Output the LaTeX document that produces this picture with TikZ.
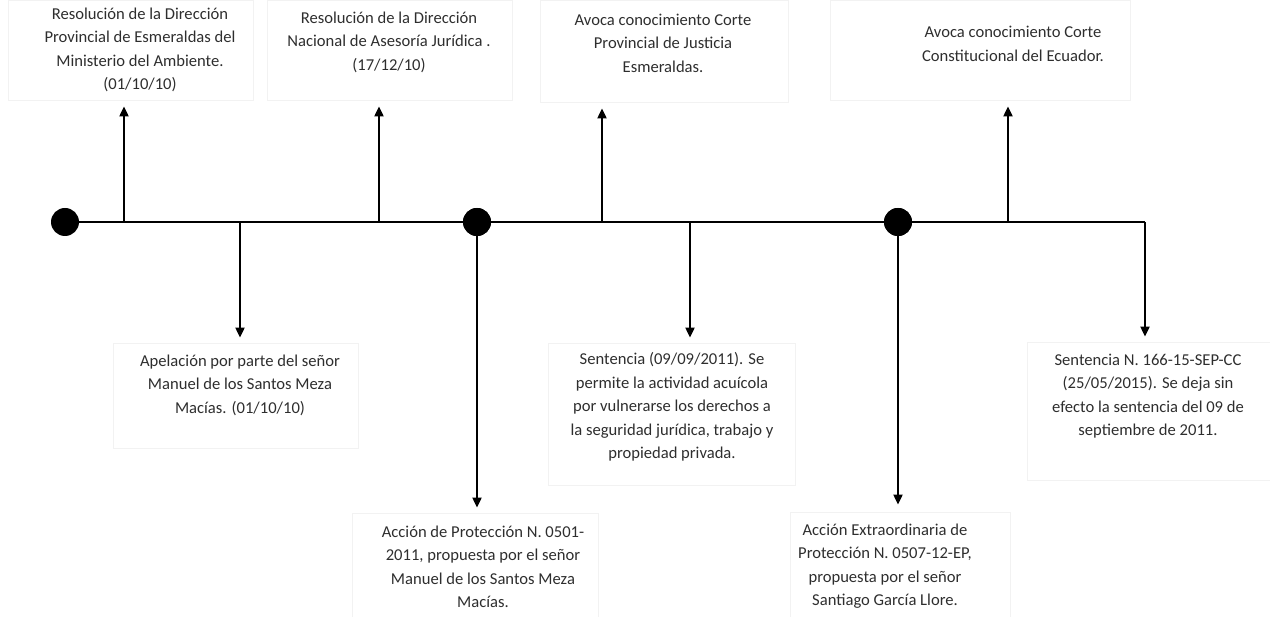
\documentclass[tikz,border=0pt]{standalone}
\usepackage{fontspec}
\setmainfont{Carlito}
\usetikzlibrary{arrows.meta}
\definecolor{txtc}{HTML}{2E2E2E}
\definecolor{boxc}{HTML}{F2F2F2}
\tikzset{
  boxnode/.style={draw=boxc, line width=0.8pt, rectangle, inner sep=0pt},
  txt/.style={align=center, text=txtc, font=\fontsize{16.6}{23.5}\selectfont, inner sep=0pt},
  dot/.style={circle, fill=black, minimum size=28pt, inner sep=0pt},
  tl/.style={line width=2pt, black},
  arr/.style={line width=2pt, black, -{Triangle[width=9pt,length=10pt]}}
}
\begin{document}
\begin{tikzpicture}[x=1pt,y=-1pt]
\useasboundingbox (0,0) rectangle (1270,617);
% boxes
\node[boxnode, minimum width=245pt, minimum height=100pt] (b1) at (130.5,50) {};
\node[boxnode, minimum width=245pt, minimum height=100pt] (b2) at (389.5,50) {};
\node[boxnode, minimum width=248pt, minimum height=102pt] (b3) at (664,51) {};
\node[boxnode, minimum width=300pt, minimum height=100pt] (b4) at (980,50) {};
\node[boxnode, minimum width=245pt, minimum height=105pt] (b5) at (235.5,395.5) {};
\node[boxnode, minimum width=246pt, minimum height=104pt] (b6) at (475,565) {};
\node[boxnode, minimum width=247pt, minimum height=142pt] (b7) at (671.5,414) {};
\node[boxnode, minimum width=220pt, minimum height=105pt] (b8) at (900,564.5) {};
\node[boxnode, minimum width=243pt, minimum height=138pt] (b9) at (1148.5,411) {};
% texts
\node[txt] (t1) at (140,50) {Resolución de la Dirección\\Provincial de Esmeraldas del\\Ministerio del Ambiente.\\(01/10/10)};
\node[txt] (t2) at (389,42) {Resolución de la Dirección\\Nacional de Asesoría Jurídica .\\(17/12/10)};
\node[txt] (t3) at (663,43) {Avoca conocimiento Corte\\Provincial de Justicia\\Esmeraldas.};
\node[txt] (t4) at (1013,44) {Avoca conocimiento Corte\\Constitucional del Ecuador.};
\node[txt] (t5) at (240,385) {Apelación por parte del señor\\Manuel de los Santos Meza\\Macías. (01/10/10)};
\node[txt] (t6) at (483,567) {Acción de Protección N. 0501-\\2011, propuesta por el señor\\Manuel de los Santos Meza\\Macías.};
\node[txt] (t7) at (672,407) {Sentencia (09/09/2011). Se\\permite la actividad acuícola\\por vulnerarse los derechos a\\la seguridad jurídica, trabajo y\\propiedad privada.};
\node[txt] (t8) at (885,566) {Acción Extraordinaria de\\Protección N. 0507-12-EP,\\propuesta por el señor\\Santiago García Llore.};
\node[txt] (t9) at (1148,396) {Sentencia N. 166-15-SEP-CC\\(25/05/2015). Se deja sin\\efecto la sentencia del 09 de\\septiembre de 2011.};
% timeline
\coordinate (start) at (65,222);
\coordinate (corner) at (1145,222);
\coordinate (u1) at (124,222);
\coordinate (u2) at (379,222);
\coordinate (u3) at (602,222);
\coordinate (u4) at (1008,222);
\coordinate (d1) at (240,222);
\coordinate (d3) at (690,222);
\draw[tl] (start) -- (corner);
% up arrows
\draw[arr] (u1) -- ([yshift=-6pt]u1 |- b1.south);
\draw[arr] (u2) -- ([yshift=-6pt]u2 |- b2.south);
\draw[arr] (u3) -- ([yshift=-6pt]u3 |- b3.south);
\draw[arr] (u4) -- ([yshift=-6pt]u4 |- b4.south);
% down arrows
\draw[arr] (d1) -- ([yshift=5pt]d1 |- b5.north);
\draw[arr] (d3) -- ([yshift=5pt]d3 |- b7.north);
\draw[arr] (corner) -- ([yshift=5pt]corner |- b9.north);
% dots
\node[dot] (c1) at (65,222) {};
\node[dot] (c2) at (477,222) {};
\node[dot] (c3) at (898,222) {};
\draw[arr] (c2.center) -- ([yshift=5pt]c2 |- b6.north);
\draw[arr] (c3.center) -- ([yshift=7pt]c3 |- b8.north);
\node[dot] at (c2) {};
\node[dot] at (c3) {};
\end{tikzpicture}
\end{document}
